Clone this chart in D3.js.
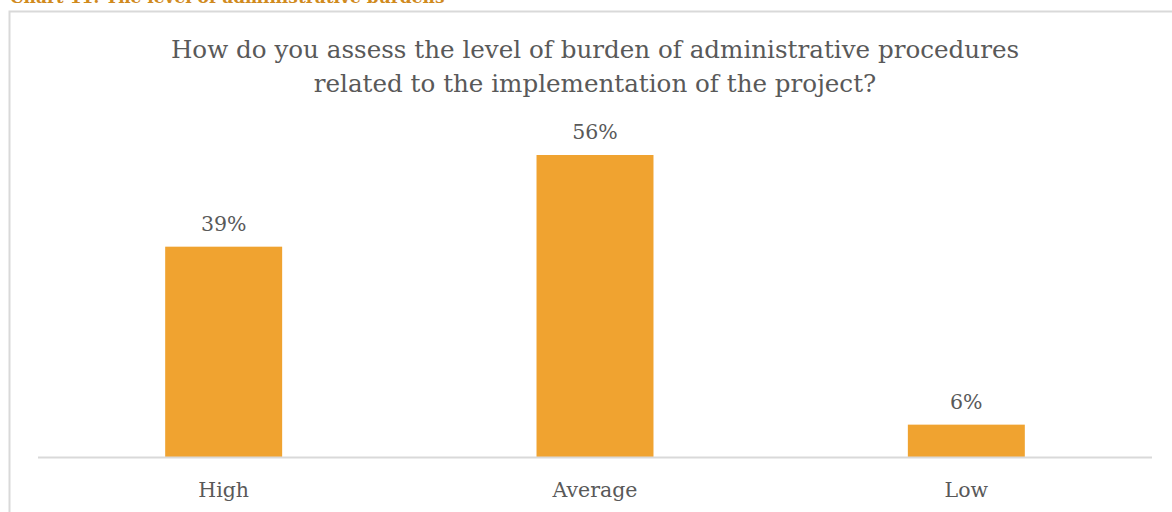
<!DOCTYPE html>
<html>
<head>
<meta charset="utf-8">
<script src="https://cdn.jsdelivr.net/npm/d3@7"></script>
<style>
  html, body { margin: 0; padding: 0; background: #fff; }
  svg { display: block; }
</style>
</head>
<body>
<svg id="chart" width="1172" height="512"></svg>
<script>
// Survey answers: perceived burden of administrative procedures
const categories = ["High", "Average", "Low"];
const shares = [39, 56, 6];
const captionText = "Chart 11: The level of administrative burdens";
const titleLines = [
  "How do you assess the level of burden of administrative procedures",
  "related to the implementation of the project?"
];

const svg = d3.select("#chart");
const W = 1172, H = 512;
const serif = "'DejaVu Serif', 'Liberation Serif', serif";
const textColor = "#595959";
const barColor = "#f0a330";

// Caption above the chart frame (partly cut by the page edge)
svg.append("text")
  .attr("x", 10).attr("y", 3)
  .attr("font-family", serif)
  .attr("font-weight", "bold")
  .attr("font-size", 17)
  .attr("fill", "#d08a1e")
  .text(captionText);

// Chart frame
svg.append("rect")
  .attr("x", 9.5).attr("y", 11.5)
  .attr("width", W + 20).attr("height", H + 20)
  .attr("fill", "none")
  .attr("stroke", "#d9d9d9")
  .attr("stroke-width", 2);

// Two-line title
const title = svg.append("text")
  .attr("text-anchor", "middle")
  .attr("font-family", serif)
  .attr("font-size", 24.6)
  .attr("fill", textColor);
title.selectAll("tspan").data(titleLines).join("tspan")
  .attr("x", 595)
  .attr("y", (d, i) => 58 + i * 34)
  .text(d => d);

const x = d3.scaleBand()
  .domain(categories)
  .range([38, 1152])
  .paddingInner(0.685)
  .paddingOuter(0.3425);

const y = d3.scaleLinear()
  .domain([0, 56])
  .range([457, 155]);

// Bars
svg.selectAll("rect.bar").data(categories).join("rect")
  .attr("class", "bar")
  .attr("x", d => x(d))
  .attr("width", x.bandwidth())
  .attr("y", (d, i) => y(shares[i]))
  .attr("height", (d, i) => y(0) - y(shares[i]))
  .attr("fill", barColor);

// Value labels
svg.selectAll("text.value").data(categories).join("text")
  .attr("class", "value")
  .attr("x", d => x(d) + x.bandwidth() / 2)
  .attr("y", (d, i) => y(shares[i]) - 16)
  .attr("text-anchor", "middle")
  .attr("font-family", serif)
  .attr("font-size", 20.5)
  .attr("fill", textColor)
  .text((d, i) => shares[i] + "%");

// Category axis
const axis = svg.append("g")
  .attr("transform", `translate(0,${y(0)})`)
  .call(d3.axisBottom(x).tickSize(0).tickPadding(25));
axis.select(".domain").attr("stroke", "#d9d9d9").attr("stroke-width", 2)
  .attr("d", "M38,0.5H1152");
axis.selectAll(".tick text")
  .attr("font-family", serif)
  .attr("font-size", 20.5)
  .attr("fill", textColor);
</script>
</body>
</html>
